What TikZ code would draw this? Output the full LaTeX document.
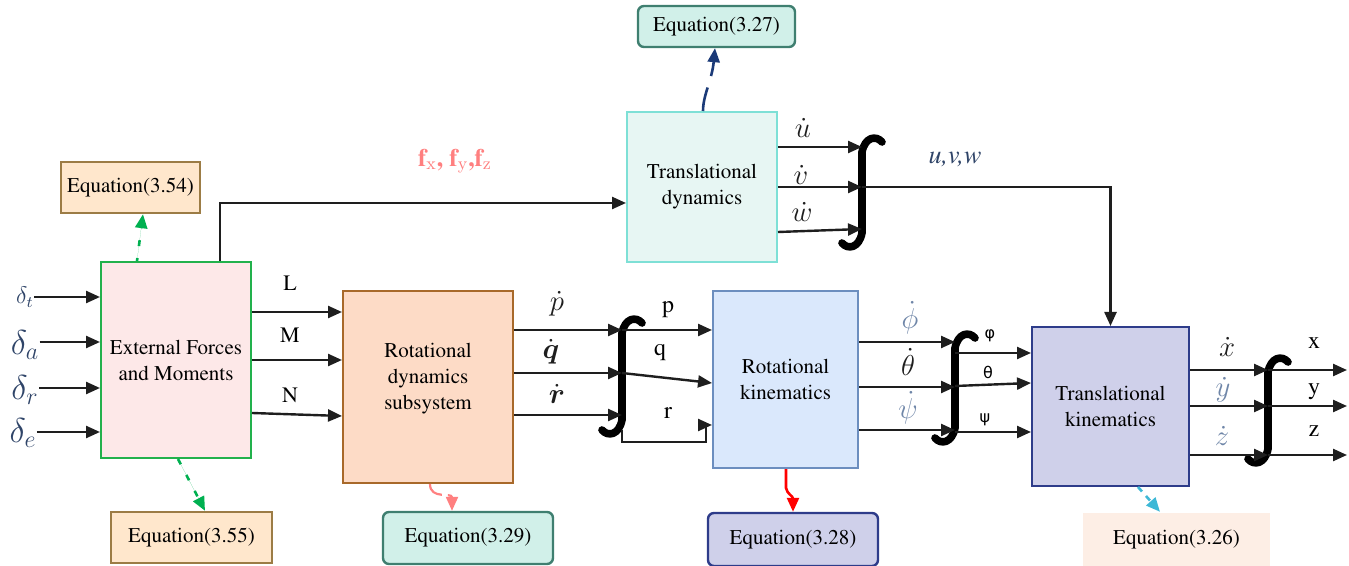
\documentclass[tikz,border=0pt]{standalone}
\usepackage{amsmath,amssymb}
\usepackage{fontspec}
\newfontfamily\grk{DejaVu Sans}
\usepackage[T1]{fontenc}
\renewcommand{\rmdefault}{ptm}
\usepackage{xcolor}
\usetikzlibrary{arrows.meta}

\definecolor{efline}{HTML}{22B14C}
\definecolor{effill}{HTML}{FDE8E8}
\definecolor{rdline}{HTML}{A8692A}
\definecolor{rdfill}{HTML}{FDDBC6}
\definecolor{tdline}{HTML}{7EE0D6}
\definecolor{tdfill}{HTML}{E7F6F3}
\definecolor{rkline}{HTML}{6C8EBF}
\definecolor{rkfill}{HTML}{DAE8FC}
\definecolor{tkline}{HTML}{2E3C8A}
\definecolor{tkfill}{HTML}{CFD0EA}
\definecolor{eqline}{HTML}{9C7C45}
\definecolor{eqfill}{HTML}{FFE7CC}
\definecolor{tealline}{HTML}{3F7F70}
\definecolor{tealfill}{HTML}{D1F0E9}
\definecolor{sandfill}{HTML}{FDEEE5}
\definecolor{gcol}{HTML}{00B050}
\definecolor{scol}{HTML}{FF8080}
\definecolor{ccol}{HTML}{3EB8D6}
\definecolor{ncol}{HTML}{1B3A78}
\definecolor{dcol}{HTML}{2F4468}
\definecolor{lcol}{HTML}{6F86A8}
\definecolor{fcol}{HTML}{FF7F7F}
\definecolor{wire}{HTML}{1E1E1E}

% integral sign: stem x, top y, bottom y
\def\intsign#1#2#3{\draw[intg] ({#1+20},{#2+5}) .. controls ({#1+14},{#2-2}) and ({#1+3},{#2}) .. ({#1},{#2+15}) -- ({#1},{#3-15}) .. controls ({#1-3},{#3}) and ({#1-14},{#3+2}) .. ({#1-20},{#3-5});}

\begin{document}
\begin{tikzpicture}[x=0.5pt,y=-0.5pt,
    blk/.style={draw, line width=1pt, align=center, font=\fontsize{10.5}{13}\selectfont},
    eqbox/.style={draw, line width=1.2pt, inner sep=0pt, font=\fontsize{10.5}{13}\selectfont},
    sig/.style={draw=wire, line width=1.2pt, -{Triangle[length=7pt,width=6pt]}},
    tip/.style={-{Triangle[length=7pt,width=6pt]}},
    lbl/.style={inner sep=0pt, font=\fontsize{11}{13}\selectfont},
    dlbl/.style={inner sep=0pt, text=wire, font=\fontsize{15}{17}\selectfont},
    intg/.style={line width=3.8pt, line cap=round}]
    \useasboundingbox (0,0) rectangle (1349,566);

    \node[blk, draw=efline, fill=effill, minimum width=75pt, minimum height=98pt] (ef) at (176,360) {External Forces\\and Moments};
    \node[blk, draw=rdline, fill=rdfill, minimum width=85pt, minimum height=96pt] (rd) at (428,387) {Rotational\\dynamics\\subsystem\\[-2pt]};
    \node[blk, draw=tdline, fill=tdfill, minimum width=75pt, minimum height=75pt] (td) at (702,187) {Translational\\dynamics};
    \node[blk, draw=rkline, fill=rkfill, minimum width=72.5pt, minimum height=88.5pt] (rk) at (785.5,379.5) {Rotational\\kinematics};
    \node[blk, draw=tkline, fill=tkfill, minimum width=78.5pt, minimum height=79.5pt] (tk) at (1110.5,406.5) {Translational\\kinematics};

    \node[eqbox, draw=eqline, fill=eqfill, minimum width=69.5pt, minimum height=25.5pt] (e54) at (130.5,187.5) {Equation(3.54)};
    \node[eqbox, draw=eqline, fill=eqfill, minimum width=80.5pt, minimum height=25.5pt] (e55) at (191.5,537.5) {Equation(3.55)};
    \node[eqbox, draw=tealline, fill=tealfill, rounded corners=3pt, minimum width=85pt, minimum height=26pt] (e29) at (468,538) {Equation(3.29)};
    \node[eqbox, draw=tkline, fill=tkfill, rounded corners=3pt, minimum width=85pt, minimum height=26.5pt] (e28) at (793,539.5) {Equation(3.28)};
    \node[eqbox, draw=none, fill=sandfill, minimum width=93.5pt, minimum height=26.5pt] (e26) at (1176.5,539.5) {Equation(3.26)};
    \node[eqbox, draw=tealline, fill=tealfill, rounded corners=3pt, minimum width=78.5pt, minimum height=20.5pt] (e27) at (716.5,26.5) {Equation(3.27)};

    % integrators
    \coordinate (i1) at (622,376);
    \coordinate (i2) at (862,192);
    \coordinate (i3) at (955,388);
    \coordinate (i4) at (1268,410);
    \coordinate (out) at (1347,0);
    \intsign{622}{318}{435}
    \intsign{862}{137}{248}
    \intsign{955}{333}{443}
    \intsign{1268}{357}{464}

    % inputs
    \node[lbl, text=dcol, font=\fontsize{12}{14}\selectfont] (dt) at (25,297) {$\delta_t$};
    \node[lbl, text=dcol, font=\fontsize{17}{19}\selectfont] (da) at (25,345) {$\delta_a$};
    \node[lbl, text=dcol, font=\fontsize{17}{19}\selectfont] (dr) at (25,390) {$\delta_r$};
    \node[lbl, text=dcol, font=\fontsize{17}{19}\selectfont] (de) at (23,433) {$\delta_e$};
    \draw[sig] (dt.east |- 0,297) -- (ef.west |- 0,297);
    \draw[sig] (da.east |- 0,342) -- (ef.west |- 0,342);
    \draw[sig] (dr.east |- 0,388) -- (ef.west |- 0,388);
    \draw[sig] (de.east |- 0,432) -- (ef.west |- 0,432);

    % moments
    \node[lbl] (lL) at (290,283) {L};
    \node[lbl] (lM) at (290,335) {M};
    \node[lbl] (lN) at (290,395) {N};
    \draw[sig] (ef.east |- 0,312) -- (rd.west |- 0,312);
    \draw[sig] (ef.east |- 0,360) -- (rd.west |- 0,360);
    \draw[sig] (ef.east |- 0,413) -- (rd.west |- 0,416);

    % forces
    \node[lbl, text=fcol, font=\bfseries\fontsize{12.5}{14}\selectfont] (lf) at (455,161) {f$_{\mathbf{x}}$, f$_{\mathbf{y}}$,f$_{\mathbf{z}}$};
    \draw[sig] (ef.north -| 220,0) |- (td.west |- 0,203);

    % rotational dynamics
    \node[dlbl] (lpd) at (557,304) {$\dot{p}$};
    \node[dlbl] (lqd) at (551,352) {$\dot{\boldsymbol{q}}$};
    \node[dlbl] (lrd) at (557,394) {$\dot{\boldsymbol{r}}$};
    \foreach \yy in {330,373,415}
        \draw[sig] (rd.east |- 0,\yy) -- (i1 |- 0,\yy);
    \node[lbl, font=\fontsize{12}{14}\selectfont] (lp) at (668,310) {p};
    \node[lbl, font=\fontsize{12}{14}\selectfont] (lq) at (660,353) {q};
    \node[lbl, font=\fontsize{12}{14}\selectfont] (lr) at (668,413) {r};
    \draw[sig] (i1 |- 0,330) -- (rk.west |- 0,330);
    \draw[sig] (i1 |- 0,373) -- (rk.west |- 0,383);
    \draw[sig] (i1 |- 0,430) -- (i1 |- 0,442) -| (706,425) -- (rk.west |- 0,425);

    % rotational kinematics
    \node[dlbl, text=lcol] (lphd) at (910,318) {$\dot{\phi}$};
    \node[dlbl] (lthd) at (908,362) {$\dot{\theta}$};
    \node[dlbl, text=lcol] (lpsd) at (908,408) {$\dot{\psi}$};
    \foreach \yy in {342,387,430}
        \draw[sig] (rk.east |- 0,\yy) -- (i3 |- 0,\yy);
    \node[lbl, font=\grk\fontsize{8}{10}\selectfont] (lph) at (990,336) {φ};
    \node[lbl, font=\grk\fontsize{8}{10}\selectfont] (lth) at (988,372) {θ};
    \node[lbl, font=\grk\fontsize{8}{10}\selectfont] (lps) at (985,420) {ψ};
    \draw[sig] (i3 |- 0,353) -- (tk.west |- 0,353);
    \draw[sig] (i3 |- 0,386) -- (tk.west |- 0,383);
    \draw[sig] (i3 |- 0,432) -- (tk.west |- 0,432);

    % translational kinematics
    \node[dlbl] (lxd) at (1227,347) {$\dot{x}$};
    \node[dlbl, text=lcol] (lyd) at (1223,390) {$\dot{y}$};
    \node[dlbl, text=lcol] (lzd) at (1222,436) {$\dot{z}$};
    \foreach \yy in {370,406,455}
        \draw[sig] (tk.east |- 0,\yy) -- (i4 |- 0,\yy);
    \node[lbl, font=\fontsize{12}{14}\selectfont] (lx) at (1314,343) {x};
    \node[lbl, font=\fontsize{12}{14}\selectfont] (ly) at (1314,392) {y};
    \node[lbl, font=\fontsize{12}{14}\selectfont] (lz) at (1314,431) {z};
    \foreach \yy in {370,406,455}
        \draw[sig] (i4 |- 0,\yy) -- (out |- 0,\yy);

    % translational dynamics
    \node[dlbl] (lud) at (803,128) {$\dot{u}$};
    \node[dlbl] (lvd) at (801,175) {$\dot{v}$};
    \node[dlbl] (lwd) at (802,212) {$\dot{w}$};
    \draw[sig] (td.east |- 0,147) -- (i2 |- 0,147);
    \draw[sig] (td.east |- 0,187) -- (i2 |- 0,187);
    \draw[sig] (td.east |- 0,232) -- (i2 |- 0,229);
    \node[lbl, text=dcol, font=\itshape\fontsize{13}{15}\selectfont] (luvw) at (955,160) {u,v,w};
    \draw[sig] (i2 |- 0,187) -| (tk.north);

    % equation links
    \draw[tip, draw=gcol, fill=gcol, line width=1.3pt, dash pattern=on 1.5pt off 6pt on 3pt off 6pt] (ef.north -| 137,0) -- (e54.south -| 143,0);
    \draw[tip, draw=gcol, fill=gcol, line width=1.3pt, dash pattern=on 3pt off 6pt] (ef.south -| 178,0) -- (e55.north -| 205,0);
    \draw[tip, draw=scol, line width=1.1pt, dash pattern=on 9pt off 3pt] (rd.south -| 430,0) .. controls (430,500) and (452,492) .. (e29.north -| 452,0);
    \draw[tip, draw=red, line width=1.3pt] (rk.south -| 786,0) -- (786,488) .. controls (787,494) and (793,496) .. (e28.north -| 793,0);
    \draw[tip, draw=ccol, line width=1.3pt, dash pattern=on 3pt off 3pt] (tk.south -| 1138,0) -- (e26.north -| 1160,0);
    \draw[tip, draw=ncol, line width=1.3pt, dash pattern=on 12pt off 6pt] (td.north -| 703,0) .. controls (703,95) and (712,80) .. (e27.south -| 715,0);
\end{tikzpicture}
\end{document}
